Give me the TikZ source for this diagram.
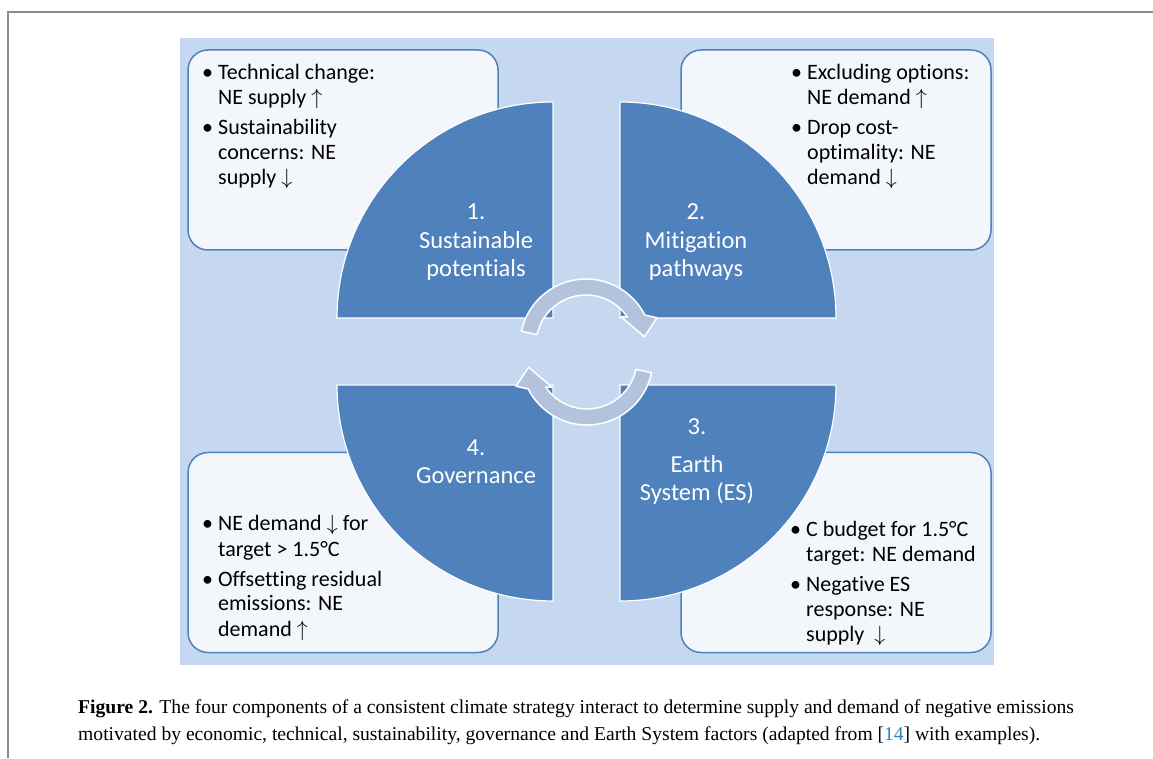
\documentclass[tikz,border=0pt]{standalone}
\usepackage{fix-cm}
\usepackage{fontspec}
\setmainfont{Carlito}[Ligatures=NoCommon]
\newfontfamily\captionserif{Liberation Serif}
\usetikzlibrary{positioning}

\definecolor{quarterblue}{HTML}{4F81BD}
\definecolor{panelblue}{HTML}{C6D8F0}
\definecolor{boxfill}{HTML}{F3F6FB}
\definecolor{cyclefill}{HTML}{B3C3DD}
\definecolor{framegray}{HTML}{8C8C8C}
\definecolor{citeblue}{HTML}{2E86C1}

\tikzset{
  notebox/.style={draw=quarterblue, line width=1.5pt, fill=boxfill, rounded corners=20pt,
    minimum width=310pt, minimum height=200pt, inner sep=0pt},
  quarter/.style={fill=quarterblue, draw=white, line width=1.2pt},
  quarterlabel/.style={text=white, align=center, inner sep=0pt, font=\fontsize{24.5}{28.5}\selectfont},
  notes/.style={anchor=base west, inner sep=0pt, font=\fontsize{22}{25}\selectfont},
  cyclearrow/.style={fill=cyclefill, draw=white, line width=1.5pt, line join=round}
}

\begin{document}
\begin{tikzpicture}[x=1pt, y=1pt]
    \useasboundingbox (0,0) rectangle (1153,758);
    % page frame
    \draw[framegray, line width=1.5pt] (8,0) -- (8,746) -- (1153,746);
    % panel
    \fill[panelblue] (180,93) rectangle (994,720);
    % note boxes
    \node[notebox] (techbox) at (343,608) {};
    \node[notebox] (pathbox) at (836,608) {};
    \node[notebox] (govbox) at (343,205.5) {};
    \node[notebox] (esbox) at (836,205.5) {};
    \node[notes] (technotes) at (202,678) {\begin{tabular}[t]{@{}l@{\hspace{5pt}}l@{}}
        • & Technical change:\\
          & NE supply $\uparrow$\\[5pt]
        • & Sustainability\\
          & concerns: NE\\
          & supply $\downarrow$
      \end{tabular}};
    \node[notes] (pathnotes) at (791,678) {\begin{tabular}[t]{@{}l@{\hspace{5pt}}l@{}}
        • & Excluding options:\\
          & NE demand $\uparrow$\\[5pt]
        • & Drop cost-\\
          & optimality: NE\\
          & demand $\downarrow$
      \end{tabular}};
    \node[notes] (govnotes) at (202,227) {\begin{tabular}[t]{@{}l@{\hspace{5pt}}l@{}}
        • & NE demand $\downarrow$ for\\
          & target > 1.5°C\\[5pt]
        • & Offsetting residual\\
          & emissions: NE\\
          & demand $\uparrow$
      \end{tabular}};
    \node[notes] (esnotes) at (790,222) {\begin{tabular}[t]{@{}l@{\hspace{5pt}}l@{}}
        • & C budget for 1.5°C\\
          & target: NE demand\\[5pt]
        • & Negative ES\\
          & response: NE\\
          & supply \ $\downarrow$
      \end{tabular}};
    % quarters
    \filldraw[quarter] (553,440) -- ++(-216,0) arc[start angle=180, end angle=90, radius=216pt] -- cycle;
    \filldraw[quarter] (620,440) -- ++(0,216) arc[start angle=90, end angle=0, radius=216pt] -- cycle;
    \filldraw[quarter] (553,373) -- ++(-216,0) arc[start angle=180, end angle=270, radius=216pt] -- cycle;
    \filldraw[quarter] (620,373) -- ++(216,0) arc[start angle=0, end angle=-90, radius=216pt] -- cycle;
    % cycle arrows
    \begin{scope}[shift={(586,413)}]
      \filldraw[cyclearrow] (168:66) arc[start angle=168, end angle=27, radius=66pt] -- (21:76) -- (8:59)
        -- (39:45) -- (34:50) arc[start angle=34, end angle=168, radius=50pt] -- cycle;
    \end{scope}
    \begin{scope}[shift={(587,399)}, rotate=180]
      \filldraw[cyclearrow] (168:66) arc[start angle=168, end angle=27, radius=66pt] -- (21:76) -- (8:59)
        -- (39:45) -- (34:50) arc[start angle=34, end angle=168, radius=50pt] -- cycle;
    \end{scope}
    % quarter labels
    \node[quarterlabel] (potentials) at (476,515.5) {1.\\Sustainable\\potentials};
    \node[quarterlabel] (pathways) at (696,515.5) {2.\\Mitigation\\pathways};
    \node[quarterlabel] (governance) at (476,296.5) {4.\\Governance};
    \node[quarterlabel] (earthsystem) at (697,296) {3.\\[9pt]Earth\\System (ES)};
    % caption
    \node[anchor=west, inner sep=0pt, align=left, font=\captionserif\fontsize{19.6}{27}\selectfont] (caption) at (78,35.5)
      {\textbf{Figure 2.} The four components of a consistent climate strategy interact to determine supply and demand of negative emissions\\
       motivated by economic, technical, sustainability, governance and Earth System factors (adapted from [\textcolor{citeblue}{14}] with examples).};
  \end{tikzpicture}
\end{document}
